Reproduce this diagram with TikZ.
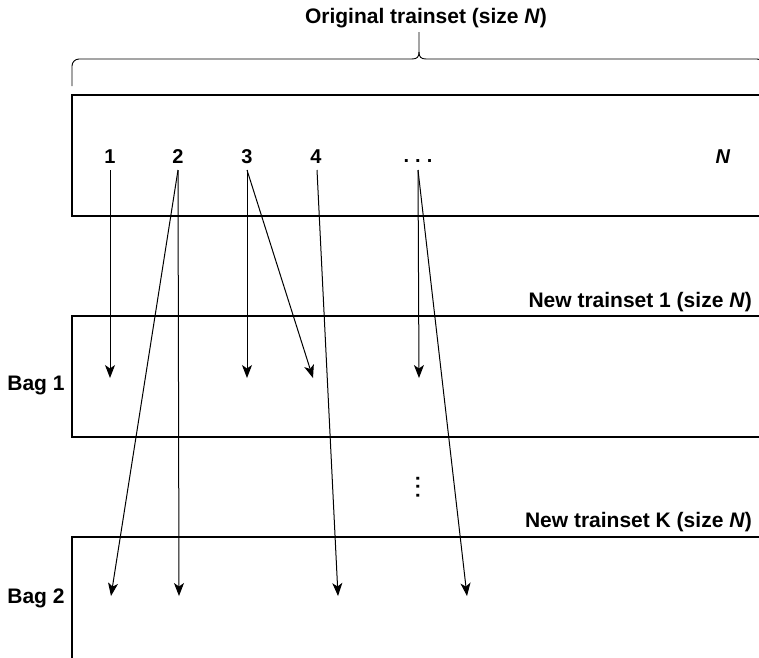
\documentclass[tikz,border=0pt]{standalone}
\usepackage{fontspec}
\setmainfont{Liberation Sans}
\usetikzlibrary{arrows.meta}
\begin{document}
\begin{tikzpicture}[x=1pt,y=-1pt,
  txt/.style={font=\bfseries\fontsize{21}{25}\selectfont, inner sep=0pt},
  idx/.style={font=\bfseries\fontsize{20}{24}\selectfont, inner sep=0pt},
  frame/.style={line width=1.5pt},
  pick/.style={line width=1pt, -{Stealth[length=13pt,width=10pt,inset=3.5pt]}},
  brace/.style={line width=0.9pt}]
\useasboundingbox (0,0) rectangle (759,657);

% title and brace over the original set
\node[txt] (title) at (426,18) {Original trainset (size \textit{N})};
\coordinate (tip) at (419,32);
\draw[brace, rounded corners=7pt] (72,86) -- (72,59) -- (412,59);
\draw[brace] (412,59) .. controls (417,59) and (419,57) .. (419,52) -- (tip);
\draw[brace] (419,52) .. controls (419,57) and (421,59) .. (426,59);
\draw[brace, rounded corners=7pt] (426,59) -- (764,59) -- (764,86);

% original set box (open to the right)
\draw[frame] (770,95) -- (72,95) -- (72,216) -- (770,216);

% items of the original set
\node[idx] (n1) at (110,157) {1};
\node[idx] (n2) at (178,157) {2};
\node[idx] (n3) at (247,157) {3};
\node[idx] (n4) at (316,157) {4};
\node[idx] (nd) at (418,161) {.\hspace{0.3em}.\hspace{0.3em}.};
\node[idx] (nN) at (723,157) {\textit{N}};

\coordinate (s1) at (110,170);
\coordinate (s2) at (178,170);
\coordinate (s3) at (247,170);
\coordinate (s4) at (317,170);
\coordinate (sd) at (418,170);

% first bag
\node[txt, anchor=east] (t1) at (752,302) {New trainset 1 (size \textit{N})};
\draw[frame] (770,316) -- (72,316) -- (72,437) -- (770,437);
\node[txt] (b1) at (36,385) {Bag 1};

\coordinate (a1) at (110,378);
\coordinate (a3) at (247,378);
\coordinate (a4) at (313,378);
\coordinate (ad) at (419,378);

% dots between the bags
\node[idx] (vd) at (418,487) {\rotatebox{90}{.\hspace{0.15em}.\hspace{0.15em}.}};

% last bag (open to the right and below)
\node[txt, anchor=east] (tK) at (752,522) {New trainset K (size \textit{N})};
\draw[frame] (770,537) -- (72,537) -- (72,670);
\node[txt] (b2) at (36,598) {Bag 2};

\coordinate (c1) at (111,596);
\coordinate (c2) at (179,596);
\coordinate (c4) at (338,596);
\coordinate (cd) at (467,596);

% draws with replacement
\draw[pick] (s1) -- (a1);
\draw[pick] (s3) -- (a3);
\draw[pick] (s3) -- (a4);
\draw[pick] (sd) -- (ad);
\draw[pick] (s2) -- (c1);
\draw[pick] (s2) -- (c2);
\draw[pick] (s4) -- (c4);
\draw[pick] (sd) -- (cd);
\end{tikzpicture}
\end{document}
